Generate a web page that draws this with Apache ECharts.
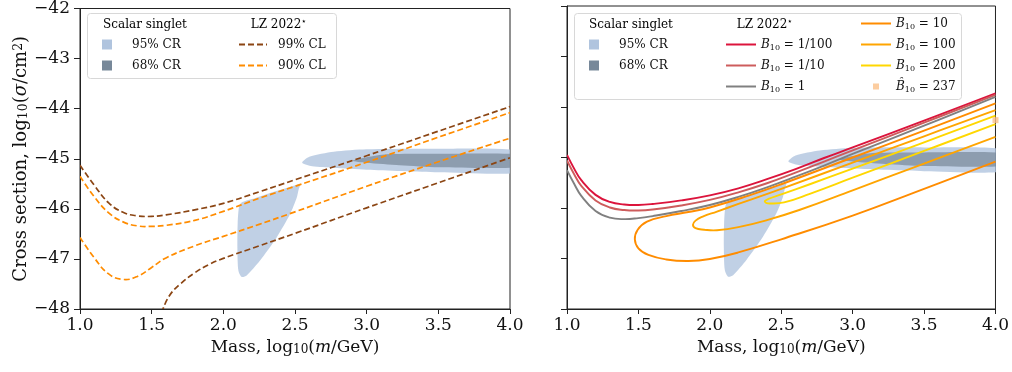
<!DOCTYPE html>
<html>
<head>
<meta charset="utf-8">
<script src="https://cdn.jsdelivr.net/npm/echarts@6/dist/echarts.min.js"></script>
<style>
  html, body { margin: 0; padding: 0; background: #fff; }
  #chart { width: 1012px; height: 372px; }
</style>
</head>
<body>
<div id="chart"></div>
<script>
const FONT = 'DejaVu Serif';

// scalar singlet credible regions, points are [log10 m, log10 sigma]
const cr95Low = [
  [2.13, -45.87], [2.22, -45.79], [2.30, -45.71], [2.40, -45.62], [2.48, -45.55], [2.535, -45.51],
  [2.525, -45.62], [2.512, -45.78], [2.465, -46.11], [2.372, -46.57], [2.256, -47.03],
  [2.163, -47.33], [2.128, -47.36], [2.105, -47.23], [2.098, -46.77], [2.10, -46.30], [2.11, -45.95],
];
const cr95High = [
  [2.55, -45.08], [2.60, -44.96], [2.77, -44.86], [3.0, -44.81], [3.5, -44.80], [4.05, -44.83],
  [4.09, -45.05], [4.05, -45.28], [3.5, -45.27], [3.0, -45.22], [2.77, -45.18], [2.62, -45.15],
];
const cr68 = [
  [2.90, -45.04], [3.0, -44.97], [3.14, -44.91], [3.5, -44.90], [4.05, -44.91],
  [4.09, -45.04], [4.05, -45.17], [3.5, -45.17], [3.23, -45.13], [3.0, -45.08],
];

// LZ 2022 limits
const lz99Upper = [
  [1.0, -45.13], [1.1, -45.53], [1.2, -45.88], [1.3, -46.07], [1.4, -46.14], [1.5, -46.15],
  [1.6, -46.12], [1.8, -46.02], [2.0, -45.89], [2.25, -45.66], [2.5, -45.42], [3.0, -44.94],
  [3.5, -44.45], [4.0, -43.96],
];
const lz99Lower = [
  [1.57, -48.08], [1.62, -47.75], [1.7, -47.5], [1.8, -47.28], [1.9, -47.11], [2.0, -46.99],
  [2.25, -46.74], [2.5, -46.49], [3.0, -45.98], [3.5, -45.48], [4.0, -44.98],
];
const lz90Upper = [
  [1.0, -45.35], [1.1, -45.76], [1.2, -46.08], [1.3, -46.26], [1.4, -46.34], [1.5, -46.35],
  [1.6, -46.33], [1.8, -46.23], [2.0, -46.05], [2.25, -45.79], [2.5, -45.55], [3.0, -45.07],
  [3.5, -44.57], [4.0, -44.08],
];
const lz90Lower = [
  [1.0, -46.57], [1.1, -46.98], [1.2, -47.30], [1.3, -47.41], [1.4, -47.35], [1.5, -47.17],
  [1.6, -46.98], [1.8, -46.74], [2.0, -46.55], [2.25, -46.31], [2.5, -46.06], [3.0, -45.55],
  [3.5, -45.06], [4.0, -44.59],
];

// LZ 2022 recast for different Bayes factors B10
const b10Labels = ['1/100', '1/10', '1', '10', '100', '200'];
const b10Curves = [
  [[1.0, -44.95], [1.05, -45.22], [1.1, -45.45], [1.2, -45.74], [1.3, -45.88], [1.4, -45.93],
   [1.5, -45.94], [1.6, -45.92], [1.8, -45.85], [2.0, -45.75], [2.2, -45.61], [2.4, -45.43],
   [2.6, -45.23], [2.8, -45.01], [3.0, -44.80], [3.5, -44.27], [4.0, -43.73]],
  [[1.0, -45.06], [1.05, -45.33], [1.1, -45.56], [1.2, -45.85], [1.3, -45.99], [1.4, -46.04],
   [1.5, -46.05], [1.6, -46.03], [1.8, -45.95], [2.0, -45.84], [2.2, -45.69], [2.4, -45.51],
   [2.6, -45.30], [2.8, -45.08], [3.0, -44.86], [3.5, -44.31], [4.0, -43.76]],
  [[1.0, -45.25], [1.05, -45.52], [1.1, -45.76], [1.2, -46.06], [1.3, -46.19], [1.4, -46.22],
   [1.5, -46.20], [1.6, -46.16], [1.8, -46.06], [2.0, -45.94], [2.2, -45.78], [2.4, -45.59],
   [2.6, -45.38], [2.8, -45.16], [3.0, -44.93], [3.5, -44.37], [4.0, -43.80]],
  [[4.0, -43.93], [3.5, -44.47], [3.0, -45.00], [2.5, -45.53], [2.277, -45.75], [2.0, -45.99],
   [1.85, -46.08], [1.695, -46.16], [1.56, -46.27], [1.495, -46.43], [1.475, -46.62], [1.50, -46.80],
   [1.57, -46.93], [1.695, -47.02], [1.85, -47.05], [2.0, -47.01], [2.2, -46.88], [2.5, -46.62],
   [3.0, -46.15], [3.5, -45.62], [4.0, -45.08]],
  [[4.0, -44.06], [3.5, -44.58], [3.0, -45.10], [2.5, -45.62], [2.2, -45.92], [2.05, -46.07],
   [1.95, -46.17], [1.90, -46.25], [1.882, -46.33], [1.90, -46.40], [1.96, -46.43], [2.05, -46.44],
   [2.2, -46.38], [2.4, -46.24], [2.626, -46.04], [3.0, -45.65], [3.5, -45.12], [4.0, -44.59]],
  [[4.0, -44.17], [3.5, -44.70], [3.0, -45.22], [2.7, -45.53], [2.5, -45.73], [2.41, -45.82],
   [2.385, -45.87], [2.42, -45.91], [2.52, -45.89], [2.7, -45.72], [3.0, -45.40], [3.5, -44.87],
   [4.0, -44.34]],
];
const bHat = [[4.0, -44.26]];

const b10Colors = ['#dc143c', '#cd5c5c', '#808080', '#ff8c00', '#ffa500', '#ffd700'];
const lz99Color = '#8b4513';
const lz90Color = '#ff8c00';

const chart = echarts.init(document.getElementById('chart'));

function blob(name, points, color, opacity, idx) {
  return {
    name,
    type: 'custom',
    xAxisIndex: idx,
    yAxisIndex: idx,
    clip: true,
    silent: true,
    z: 1,
    data: points,
    itemStyle: { color },
    renderItem: (params, api) => {
      if (params.dataIndex !== 0) return;
      return {
        type: 'polygon',
        shape: { points: points.map(p => api.coord(p)), smooth: 0.25 },
        style: { fill: color, opacity },
      };
    },
  };
}

// curves are drawn as smoothed polylines, so the closed loops keep round ends
function curve(name, points, color, idx, dashed) {
  return {
    name,
    type: 'custom',
    xAxisIndex: idx,
    yAxisIndex: idx,
    clip: true,
    silent: true,
    z: 3,
    data: points,
    renderItem: (params, api) => {
      if (params.dataIndex !== 0) return;
      return {
        type: 'polyline',
        shape: { points: points.map(p => api.coord(p)), smooth: 0.45 },
        style: { fill: null, stroke: color, lineWidth: dashed ? 1.7 : 1.9, lineDash: dashed ? [6, 3] : null },
      };
    },
  };
}

// empty line series, only there so the legend gets line icons
function legendLine(name, color, dashed) {
  return {
    name,
    type: 'line',
    xAxisIndex: 0,
    yAxisIndex: 0,
    data: [],
    symbol: 'none',
    itemStyle: { color },
    lineStyle: { color, width: dashed ? 1.7 : 1.9, type: dashed ? [6, 3] : 'solid' },
  };
}

const bName = v => `B10 = ${v}`;
const hatName = 'Bhat10 = 237';

const series = [];
series.push(legendLine('99% CL', lz99Color, true));
series.push(legendLine('90% CL', lz90Color, true));
b10Labels.forEach((v, i) => series.push(legendLine(bName(v), b10Colors[i], false)));
[0, 1].forEach(i => {
  series.push(blob('95% CR', cr95Low, '#b0c4de', 0.8, i));
  series.push(blob('95% CR', cr95High, '#b0c4de', 0.8, i));
  series.push(blob('68% CR', cr68, '#778899', 0.7, i));
});
series.push(curve('99% CL', lz99Upper, lz99Color, 0, true));
series.push(curve('99% CL', lz99Lower, lz99Color, 0, true));
series.push(curve('90% CL', lz90Upper, lz90Color, 0, true));
series.push(curve('90% CL', lz90Lower, lz90Color, 0, true));
b10Curves.forEach((pts, i) => series.push(curve(bName(b10Labels[i]), pts, b10Colors[i], 1, false)));
series.push({
  name: hatName,
  type: 'scatter',
  xAxisIndex: 1,
  yAxisIndex: 1,
  data: bHat,
  symbol: 'rect',
  symbolSize: 6,
  clip: false,
  silent: true,
  z: 4,
  itemStyle: { color: '#fbc088' },
});

const rich = {
  t: { fontFamily: FONT, fontSize: 12, lineHeight: 15, color: '#111' },
  i: { fontFamily: FONT, fontSize: 12, lineHeight: 15, fontStyle: 'italic', color: '#111' },
  s: { fontFamily: FONT, fontSize: 8, lineHeight: 9, verticalAlign: 'bottom', color: '#111' },
};
const legendText = name => {
  if (name.startsWith('B10')) return `{i|B}{s|10}{t| ${name.slice(4)}}`;
  if (name.startsWith('Bhat')) return `{i|B\u0302}{s|10}{t| ${name.slice(7)}}`;
  return name;
};
const baseLegend = {
  orient: 'vertical',
  padding: 0,
  itemGap: 6,
  selectedMode: false,
  z: 5,
  formatter: legendText,
  textStyle: { fontFamily: FONT, fontSize: 12, lineHeight: 15, color: '#111', rich },
};
const noDot = name => ({ name, itemStyle: { opacity: 0 } });

const axisName = {
  t: { fontFamily: FONT, fontSize: 17, color: '#111' },
  i: { fontFamily: FONT, fontSize: 17, fontStyle: 'italic', color: '#111' },
  s: { fontFamily: FONT, fontSize: 12, verticalAlign: 'bottom', lineHeight: 12, color: '#111' },
  p: { fontFamily: FONT, fontSize: 12, verticalAlign: 'top', lineHeight: 12, color: '#111' },
};
const yName = {
  t: { ...axisName.t, fontSize: 18 },
  i: { ...axisName.i, fontSize: 18 },
  s: { ...axisName.s, fontSize: 12.5 },
  p: { ...axisName.p, fontSize: 12.5 },
};

const xAxis = [0, 1].map(i => ({
  type: 'value',
  gridIndex: i,
  min: 1,
  max: 4,
  interval: 0.5,
  name: '{t|Mass, log}{s|10}{t|(}{i|m}{t|/GeV)}',
  nameLocation: 'middle',
  nameGap: 30,
  nameTextStyle: { rich: axisName },
  axisLine: { lineStyle: { color: '#222', width: 1 } },
  axisTick: { length: 5, lineStyle: { color: '#222' } },
  axisLabel: { margin: 8, fontFamily: FONT, fontSize: 17, color: '#111', formatter: v => v.toFixed(1) },
  splitLine: { show: false },
}));

const yAxis = [0, 1].map(i => ({
  type: 'value',
  gridIndex: i,
  min: -48,
  max: -42,
  interval: 1,
  name: i === 0 ? '{t|Cross section, log}{s|10}{t|(}{i|σ}{t|/cm}{p|2}{t|)}' : '',
  nameLocation: 'middle',
  nameGap: 46,
  nameTextStyle: { rich: yName },
  axisLine: { show: true, lineStyle: { color: '#222', width: 1 } },
  axisTick: { show: true, length: 6, lineStyle: { color: '#222' } },
  axisLabel: {
    show: i === 0,
    margin: 10,
    fontFamily: FONT,
    fontSize: 17,
    color: '#111',
    formatter: v => '\u2212' + Math.abs(v),
  },
  splitLine: { show: false },
}));

const headRich = {
  a: { fontFamily: FONT, fontSize: 12, color: '#111', lineHeight: 15 },
  b: { fontFamily: FONT, fontSize: 9, color: '#111', lineHeight: 15, verticalAlign: 'top' },
};
const header = (x, text) => ({
  type: 'text', z: 5, x, y: 25,
  style: { text, rich: headRich, align: 'center', verticalAlign: 'middle' },
});

chart.setOption({
  animation: false,
  grid: [
    { left: 80, top: 6, width: 430, height: 303, show: true, borderColor: '#222', borderWidth: 1 },
    { left: 567, top: 6, width: 430, height: 303, show: true, borderColor: '#222', borderWidth: 1 },
  ],
  xAxis,
  yAxis,
  legend: [
    { ...baseLegend, left: 102, top: 37, itemWidth: 10, itemHeight: 10,
      textStyle: { ...baseLegend.textStyle, padding: [0, 0, 0, 15] },
      data: [{ name: '95% CR', icon: 'rect' }, { name: '68% CR', icon: 'rect' }] },
    { ...baseLegend, left: 238, top: 37, itemWidth: 28, itemHeight: 10,
      textStyle: { ...baseLegend.textStyle, padding: [0, 0, 0, 6] },
      data: ['99% CL', '90% CL'].map(noDot) },
    { ...baseLegend, left: 589, top: 37, itemWidth: 10, itemHeight: 10,
      textStyle: { ...baseLegend.textStyle, padding: [0, 0, 0, 15] },
      data: [{ name: '95% CR', icon: 'rect' }, { name: '68% CR', icon: 'rect' }] },
    { ...baseLegend, left: 725, top: 37, itemWidth: 30, itemHeight: 10,
      data: b10Labels.slice(0, 3).map(bName).map(noDot) },
    { ...baseLegend, left: 860, top: 16, itemWidth: 30, itemHeight: 6,
      data: [...b10Labels.slice(3).map(bName).map(noDot),
        { name: hatName, icon: 'path://M0,0h10v10h-10z' }] },
  ],
  graphic: [
    { type: 'rect', z: 3, shape: { x: 87.5, y: 13.5, width: 249, height: 65, r: 3 },
      style: { fill: 'rgba(255,255,255,0.85)', stroke: '#d8d8d8', lineWidth: 1 } },
    { type: 'rect', z: 3, shape: { x: 574.5, y: 13.5, width: 387, height: 86, r: 3 },
      style: { fill: 'rgba(255,255,255,0.85)', stroke: '#d8d8d8', lineWidth: 1 } },
    header(145, '{a|Scalar singlet}'),
    header(279, '{a|LZ 2022}{b|\u22c6}'),
    header(631, '{a|Scalar singlet}'),
    header(765, '{a|LZ 2022}{b|\u22c6}'),
  ],
  series,
});
</script>
</body>
</html>
